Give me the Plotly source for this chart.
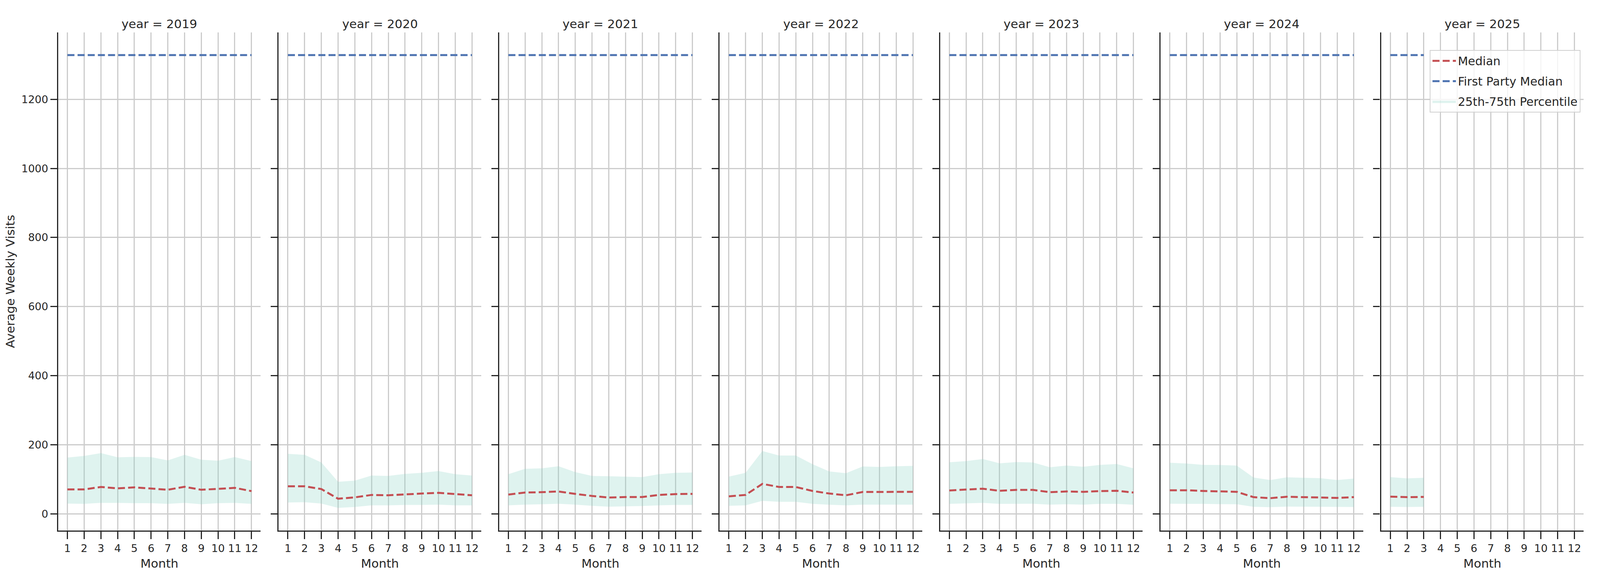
import plotly.graph_objects as go
from plotly.subplots import make_subplots

# values
years = [2019, 2020, 2021, 2022, 2023, 2024, 2025]
months = [1, 2, 3, 4, 5, 6, 7, 8, 9, 10, 11, 12]
first_party_median = 1328

median = {
    2019: [71, 71, 78, 74, 77, 74, 70, 78.5, 70, 72.5, 75.5, 66],
    2020: [80, 80, 72, 44, 48, 55, 54, 57, 59, 61, 57, 54],
    2021: [56, 62, 63, 65, 58, 52, 47.5, 49, 49, 55, 57.5, 58],
    2022: [51, 55, 87, 78, 78, 66.5, 59, 54, 63.5, 63.5, 63, 64],
    2023: [68, 71, 73, 67, 69.5, 69.5, 63, 65, 64, 66, 67, 62],
    2024: [68.5, 68.5, 66.5, 65, 64, 48.6, 45.6, 49.7, 48.6, 48, 46.4, 48.6],
    2025: [50, 48.6, 49.3],
}
p25 = {
    2019: [30, 29, 32, 32, 31, 31, 29, 32, 28, 31, 32, 29],
    2020: [33, 34, 30, 17.5, 20, 25, 25, 26, 26, 27, 25, 25],
    2021: [25, 27, 28, 29.5, 27, 23.5, 21, 21.7, 23, 25, 26, 26],
    2022: [23.5, 25, 38, 35, 35, 29, 26.5, 25, 27, 27, 26.5, 27],
    2023: [29, 30.7, 32, 29, 29.5, 29.5, 27, 28, 27, 29, 29, 26.5],
    2024: [29.5, 29.5, 29, 28.4, 28, 20.6, 19.4, 21.3, 21, 21, 20, 20],
    2025: [20.6, 20, 20.6],
}
p75 = {
    2019: [163, 168, 176, 164, 165, 164.5, 155, 171, 157, 154, 164.5, 153],
    2020: [174, 171, 149, 93, 96.5, 111, 110, 116, 119, 124, 115, 111],
    2021: [115, 130.5, 132, 138, 121, 110, 109, 108, 106.5, 115, 119, 120],
    2022: [108, 119, 182, 169, 169, 144, 123, 118, 137.5, 136, 138, 139],
    2023: [149.5, 153, 159, 146.5, 150, 149, 135, 140, 136.5, 142, 144.5, 132],
    2024: [148, 146, 142, 141.7, 140, 105.4, 98, 106, 104.7, 103.6, 98, 102.4],
    2025: [106.5, 103, 104.7],
}

RED = "#C44E52"
BLUE = "#4C72B0"
FILL = "rgba(141,211,199,0.28)"
INK = "#262626"
FONT = "DejaVu Sans"

fig = make_subplots(
    rows=1, cols=7,
    shared_yaxes=True,
    horizontal_spacing=0.0118,
    subplot_titles=[f"year = {y}" for y in years],
)

for i, yr in enumerate(years):
    col = i + 1
    n = len(median[yr])
    x = months[:n]
    first = i == 0

    # 25th-75th band
    fig.add_trace(go.Scatter(
        x=x, y=p25[yr], mode="lines", line=dict(width=0),
        showlegend=False, hoverinfo="skip", legendgroup="band"
    ), row=1, col=col)
    fig.add_trace(go.Scatter(
        x=x, y=p75[yr], mode="lines", line=dict(width=0),
        fill="tonexty", fillcolor=FILL,
        name="25th-75th Percentile", legendgroup="band",
        showlegend=first, legendrank=3
    ), row=1, col=col)

    # median
    fig.add_trace(go.Scatter(
        x=x, y=median[yr], mode="lines",
        line=dict(color=RED, width=5, dash="18px,8px"),
        name="Median", legendgroup="median",
        showlegend=first, legendrank=1
    ), row=1, col=col)

    # first party median
    fig.add_trace(go.Scatter(
        x=x, y=[first_party_median] * n, mode="lines",
        line=dict(color=BLUE, width=5, dash="18px,8px"),
        name="First Party Median", legendgroup="fp",
        showlegend=first, legendrank=2
    ), row=1, col=col)

lo = min(min(v) for v in p25.values())
hi = first_party_median
pad = 0.05 * (hi - lo)

fig.update_xaxes(
    range=[0.45, 12.55],
    tickmode="array", tickvals=months, ticktext=[str(m) for m in months],
    showgrid=True, gridcolor="#cccccc", gridwidth=2.5,
    showline=True, linecolor=INK, linewidth=3.3,
    ticks="outside", ticklen=19, tickwidth=3, tickcolor=INK,
    tickfont=dict(size=27, color=INK, family=FONT),
    title=dict(text="Month", font=dict(size=31, color=INK, family=FONT), standoff=14),
    zeroline=False, automargin=False,
)
fig.update_yaxes(
    range=[lo - pad, hi + pad],
    tickmode="array", tickvals=[0, 200, 400, 600, 800, 1000, 1200],
    showgrid=True, gridcolor="#cccccc", gridwidth=2.5,
    showline=True, linecolor=INK, linewidth=3.3,
    ticks="outside", ticklen=17, tickwidth=3, tickcolor=INK,
    tickfont=dict(size=27, color=INK, family=FONT),
    zeroline=False, automargin=False,
)
fig.update_yaxes(
    title=dict(text="Average Weekly Visits", font=dict(size=31, color=INK, family=FONT), standoff=10),
    row=1, col=1,
)

for ann in fig.layout.annotations:
    ann.font = dict(size=31, color=INK, family=FONT)
    ann.yshift = 2

fig.update_layout(
    margin=dict(l=141, r=34, t=75, b=134),
    plot_bgcolor="white", paper_bgcolor="white",
    font=dict(family=FONT, color=INK),
    legend=dict(
        x=0.998, y=0.965, xanchor="right", yanchor="top",
        bgcolor="rgba(255,255,255,0.8)", bordercolor="#d0d0d0", borderwidth=2,
        font=dict(size=30, color=INK, family=FONT),
        itemwidth=60,
    ),
)

fig.write_html("out.html")
